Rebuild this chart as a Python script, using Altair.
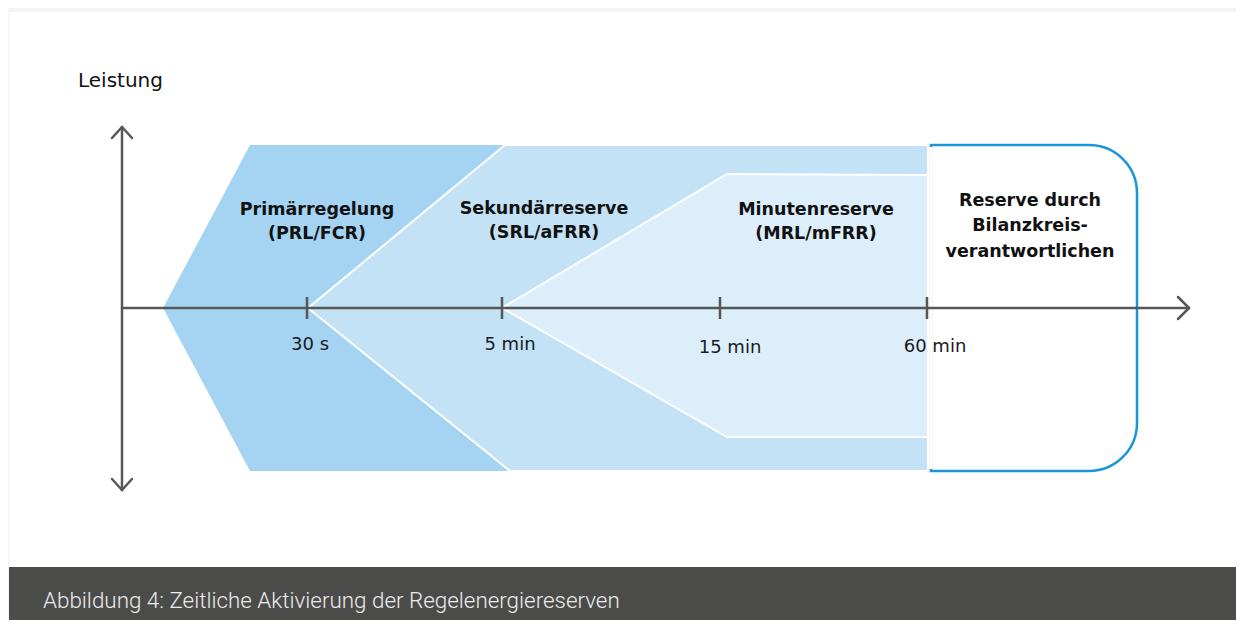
import altair as alt
import pandas as pd

# ---- canvas (diagram units = page pixels) ----
W, H = 1228, 612
XD = [8, 1236]
YD = [620, 8]

# ---- data ----
tick_labels = ["30 s", "5 min", "15 min", "60 min"]
tick_pos = [307, 502, 720, 927]
tick_label_x = [310, 510, 730, 935]
tick_label_y = [350, 350, 353, 352]

axis_level = 308

# reserve regions (polygon vertices in diagram units: time position, power level)
prl_x = [163, 250, 505, 308, 510, 250]
prl_y = [308, 145, 145, 308, 471, 471]
srl_x = [308, 505, 928, 928, 510]
srl_y = [308, 145, 145, 471, 471]
mrl_x = [502, 727, 928, 928, 727]
mrl_y = [308, 174, 175, 437, 437]

box_x = [931, 1137]
box_y = [145, 471]

region_lines = ["Primärregelung", "(PRL/FCR)",
                "Sekundärreserve", "(SRL/aFRR)",
                "Minutenreserve", "(MRL/mFRR)",
                "Reserve durch", "Bilanzkreis-", "verantwortlichen"]
region_x = [317, 317, 544, 544, 816, 816, 1030, 1030, 1030]
region_y = [215, 239, 214, 238, 215, 239, 206, 231, 257]

# axis segments: x, y, x2, y2
seg_x = [122, 122, 122, 122, 122, 122, 1189, 1189]
seg_y = [308, 127, 127, 127, 490, 490, 308, 308]
seg_x2 = [1189, 122, 112, 132, 112, 132, 1178, 1178]
seg_y2 = [308, 490, 138, 138, 479, 479, 297, 319]

title_text = ["Leistung"]
title_x = [78]
title_y = [87]

caption_text = ["Abbildung 4: Zeitliche Aktivierung der Regelenergiereserven"]
caption_x = [43]
caption_y = [608]

panel_x = [9, 9]
panel_x2 = [1236, 1236]
panel_y = [12, 567]
panel_y2 = [567, 620]
panel_col = ["#ffffff", "#4b4b49"]

# ---- colours ----
C_PRL = "#a4d4f2"
C_SRL = "#c3e2f6"
C_MRL = "#ddeefb"
C_BOX = "#1896d6"
C_AX = "#575757"

xs = alt.Scale(domain=XD, nice=False, zero=False)
ys = alt.Scale(domain=YD, nice=False, zero=False)


def X(f="x"):
    return alt.X(f"{f}:Q", scale=xs, axis=None)


def Y(f="y"):
    return alt.Y(f"{f}:Q", scale=ys, axis=None)


panel_df = pd.DataFrame({"x": panel_x, "x2": panel_x2, "y": panel_y, "y2": panel_y2, "c": panel_col})
panels = alt.Chart(panel_df).mark_rect().encode(
    x=X(), x2="x2:Q", y=Y(), y2="y2:Q",
    color=alt.Color("c:N", scale=None),
)


def poly(xv, yv, fill, stroke, sw):
    df = pd.DataFrame({"x": xv, "y": yv, "i": list(range(len(xv)))})
    return alt.Chart(df).mark_line(
        interpolate="linear-closed", fill=fill, stroke=stroke, strokeWidth=sw,
        strokeJoin="miter"
    ).encode(x=X(), y=Y(), order="i:Q")


prl = poly(prl_x, prl_y, C_PRL, C_PRL, 0)
srl = poly(srl_x, srl_y, C_SRL, "#ffffff", 2)
mrl = poly(mrl_x, mrl_y, C_MRL, "#ffffff", 2)

box_df = pd.DataFrame({"x": [box_x[0]], "x2": [box_x[1]], "y": [box_y[0]], "y2": [box_y[1]]})
box = alt.Chart(box_df).mark_rect(
    fillOpacity=0, stroke=C_BOX, strokeWidth=2.5,
    cornerRadiusTopRight=48, cornerRadiusBottomRight=48
).encode(x=X(), x2="x2:Q", y=Y(), y2="y2:Q")

cover_df = pd.DataFrame({"x": [box_x[0]], "y": [box_y[0] + 2], "y2": [box_y[1] - 2]})
cover = alt.Chart(cover_df).mark_rule(color="#ffffff", strokeWidth=3.5).encode(
    x=X(), y=Y(), y2="y2:Q"
)

seg_df = pd.DataFrame({"x": seg_x, "y": seg_y, "x2": seg_x2, "y2": seg_y2})
axes = alt.Chart(seg_df).mark_rule(color=C_AX, strokeWidth=2.5, strokeCap="round").encode(
    x=X(), y=Y(), x2="x2:Q", y2="y2:Q"
)

tick_df = pd.DataFrame({"x": tick_pos, "y": [axis_level - 11] * 4, "y2": [axis_level + 11] * 4})
ticks = alt.Chart(tick_df).mark_rule(color=C_AX, strokeWidth=2.5).encode(
    x=X(), y=Y(), y2="y2:Q"
)

tl_df = pd.DataFrame({"x": tick_label_x, "y": tick_label_y, "t": tick_labels})
tick_text = alt.Chart(tl_df).mark_text(
    font="DejaVu Sans", fontSize=18, color="#1a1a1a", align="center", baseline="alphabetic"
).encode(x=X(), y=Y(), text="t:N")

rg_df = pd.DataFrame({"x": region_x, "y": region_y, "t": region_lines})
region_text = alt.Chart(rg_df).mark_text(
    font="DejaVu Sans", fontSize=17.5, fontWeight="bold", color="#111111",
    align="center", baseline="alphabetic"
).encode(x=X(), y=Y(), text="t:N")

ti_df = pd.DataFrame({"x": title_x, "y": title_y, "t": title_text})
title = alt.Chart(ti_df).mark_text(
    font="DejaVu Sans", fontSize=20, color="#111111", align="left", baseline="alphabetic"
).encode(x=X(), y=Y(), text="t:N")

cap_df = pd.DataFrame({"x": caption_x, "y": caption_y, "t": caption_text})
caption = alt.Chart(cap_df).mark_text(
    font="Roboto", fontSize=22.4, fontWeight=300, color="#ececec", align="left", baseline="alphabetic"
).encode(x=X(), y=Y(), text="t:N")

chart = alt.layer(
    panels, prl, srl, mrl, box, cover, axes, ticks, tick_text, region_text, title, caption
).properties(
    width=W, height=H, padding=0, background="#f4f4f4",
    autosize=alt.AutoSizeParams(type="fit", contains="padding"),
).configure_view(stroke=None)

chart.save("out.html", embed_options={"renderer": "svg", "actions": False})
